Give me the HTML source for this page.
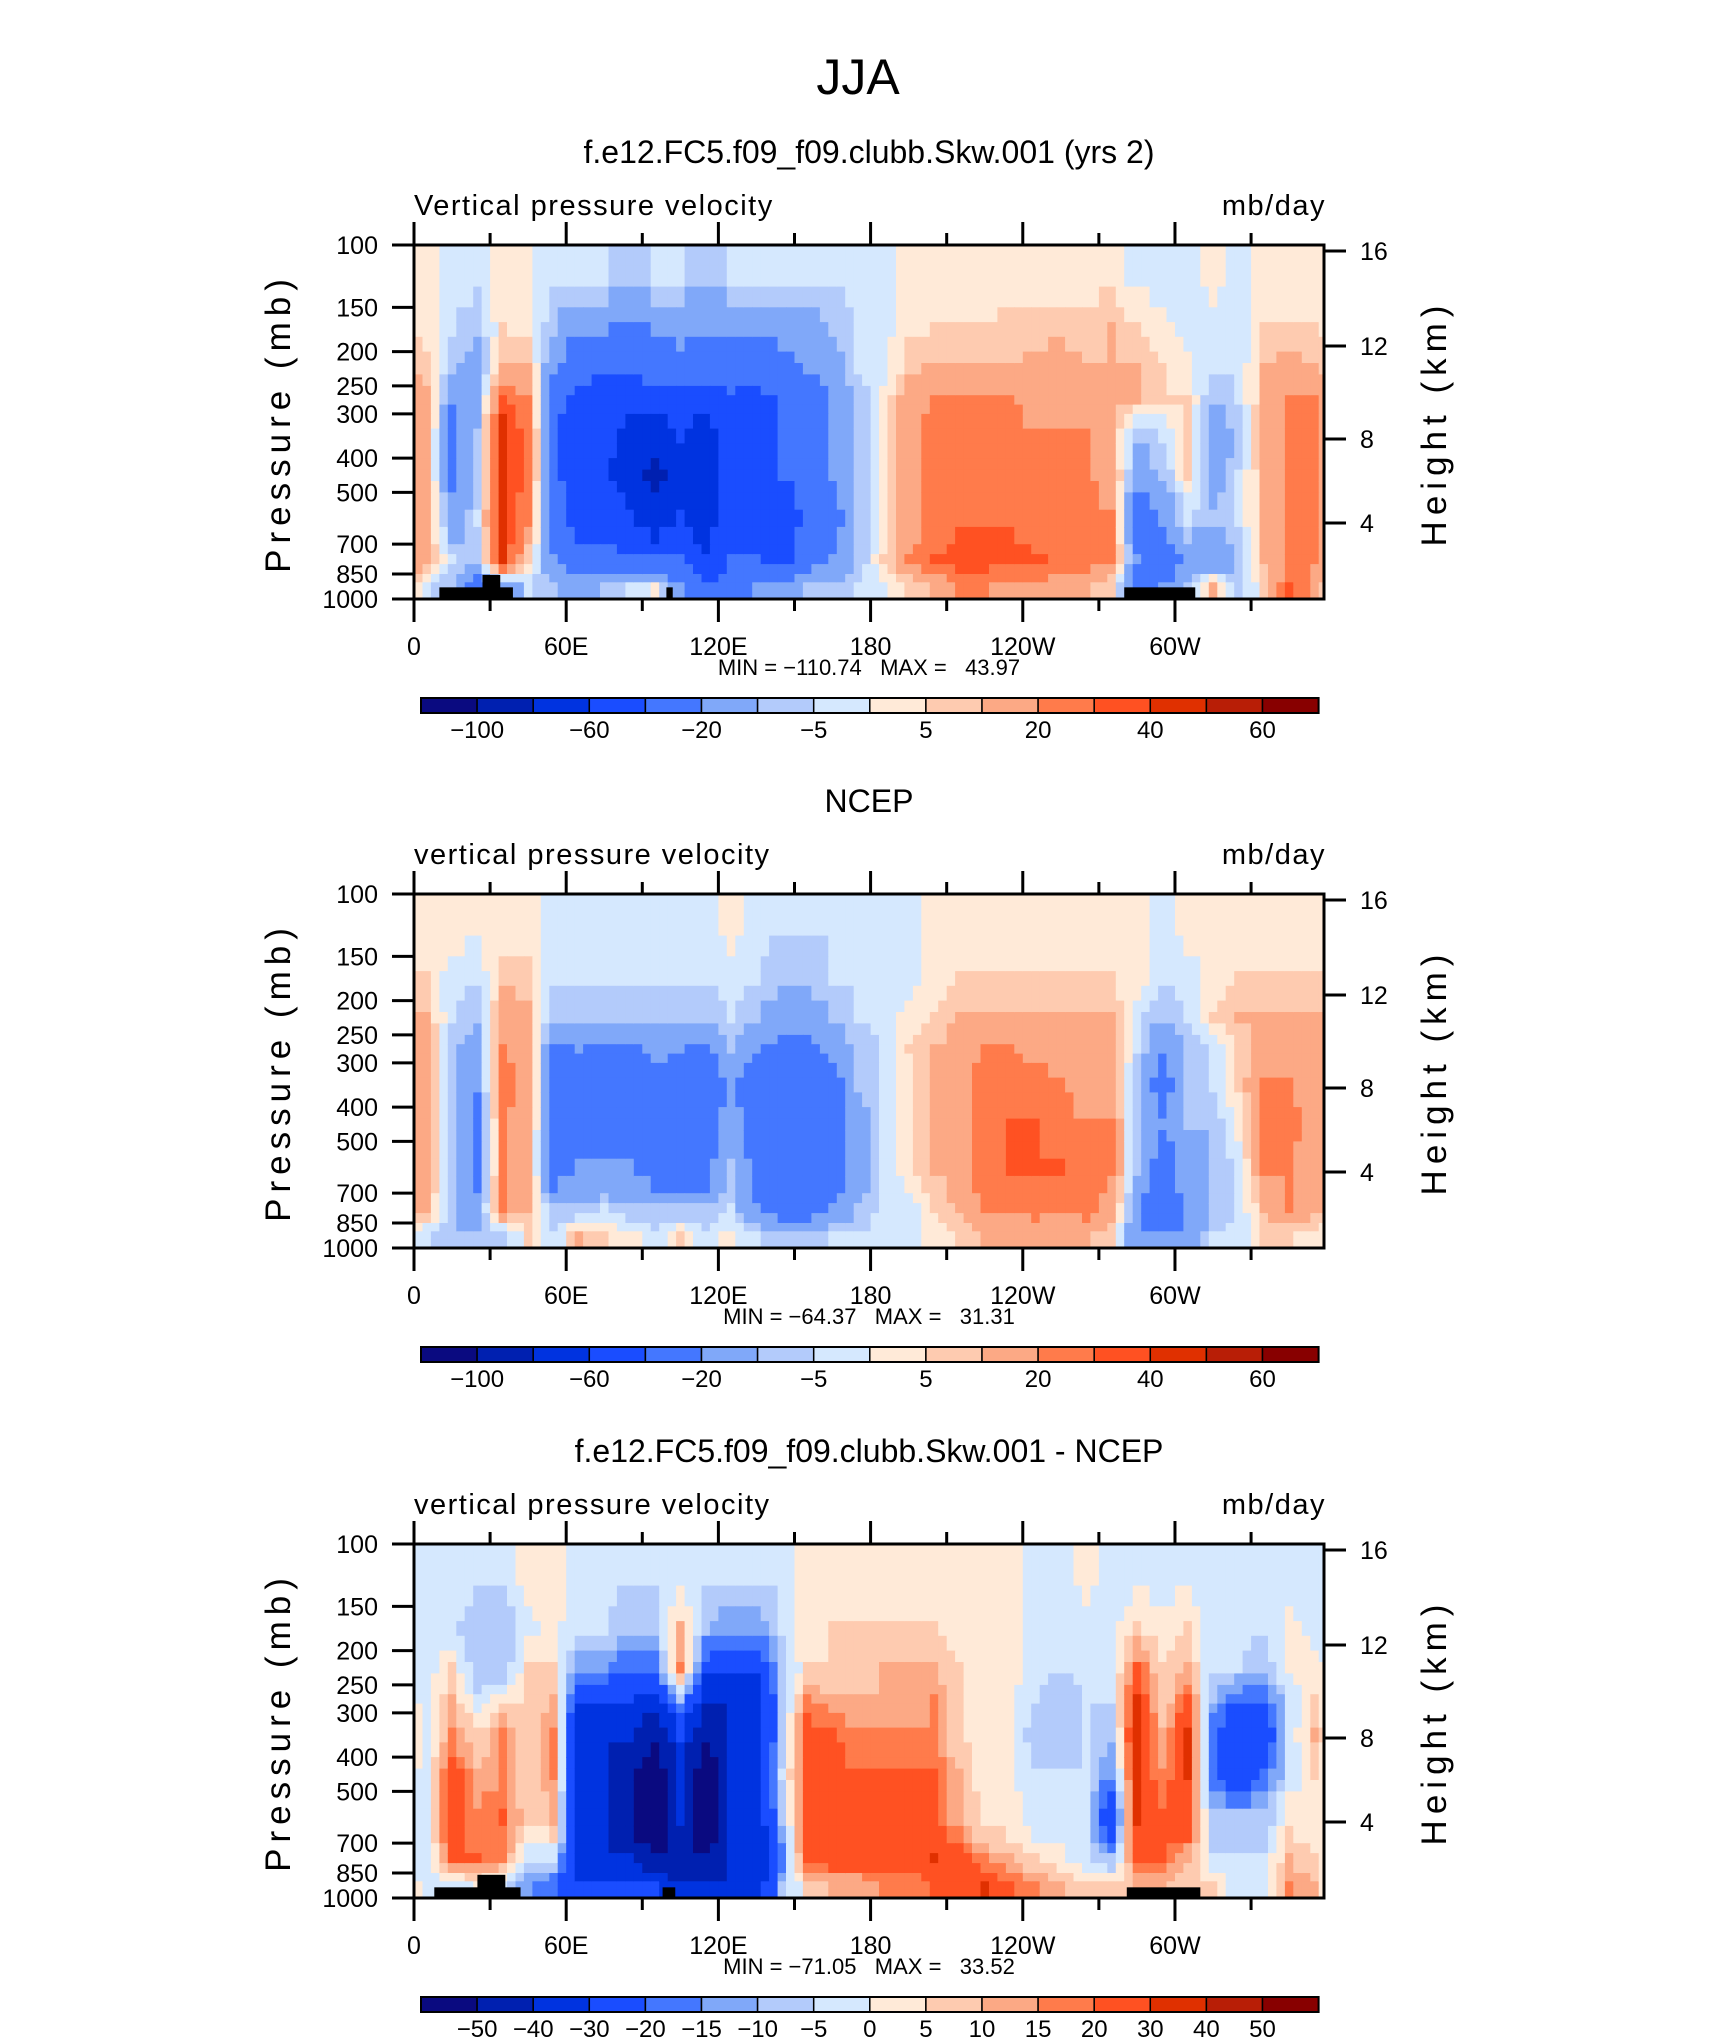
<!DOCTYPE html>
<html><head><meta charset="utf-8"><style>
html,body{margin:0;padding:0;background:#fff}
svg text{font-family:"Liberation Sans Narrow","Liberation Sans",sans-serif;fill:#000}
</style></head><body>
<svg id="fig" xmlns="http://www.w3.org/2000/svg" width="1710" height="2038" viewBox="0 0 1710 2038">
<rect x="0" y="0" width="1710" height="2038" fill="#fff"/>
<text x="858" y="94" font-size="50" text-anchor="middle" style="font-family:'Liberation Sans',sans-serif">JJA</text>
</svg>
<script>
// ---------- DATA ----------
const lons = [5,15,25,35,45,55,65,75,85,95,105,115,125,135,145,155,165,175,185,195,205,215,225,235,245,255,265,275,285,295,305,315,325,335,345,355];
const levels = [125,175,225,275,350,450,600,775,925];
const levelBounds = [100,150,200,250,300,400,500,700,850,1000];
const pTicks = [100,150,200,250,300,400,500,700,850,1000];
const lonTicks = [0,60,120,180,240,300];
const lonTickLabels = ["0","60E","120E","180","120W","60W"];
const hTickLabels = ["16","12","8","4"];
const hTickOffsets = [6,101,194,278];
const cbLevels1 = [-100,-80,-60,-40,-20,-10,-5,0,5,10,20,30,40,50,60];
const cbLabels1 = ["-100","","-60","","-20","","-5","","5","","20","","40","","60"];
const cbLevels3 = [-50,-40,-30,-20,-15,-10,-5,0,5,10,15,20,30,40,50];
const cbLabels3 = ["-50","-40","-30","-20","-15","-10","-5","0","5","10","15","20","30","40","50"];
const palette = ["#0a0a80","#0020b0","#0033e0","#1a4dff","#4477ff","#80a8f9","#b3cbfb","#d5e8fe","#ffead8","#fecbb0","#fca985","#ff7b4b","#ff5122","#e03000","#b81e06","#880000"];

// model values [lon][level]
const model = [
[2,3,8,12,12,12,10,15,-5],[-3,-5,-10,-20,-25,-25,-15,-5,-10],[-3,-10,-15,-15,-10,-10,-5,-10,-30],
[2,5,10,30,45,45,40,40,-20],[0,3,10,20,25,25,20,5,-5],[-3,-10,-20,-30,-35,-35,-30,-20,-10],
[-5,-20,-30,-50,-60,-55,-50,-30,-15],[-5,-20,-40,-45,-50,-60,-50,-30,-10],[-10,-25,-40,-55,-70,-70,-60,-40,-5],
[-5,-20,-30,-50,-70,-90,-70,-40,2],[-5,-15,-30,-50,-60,-70,-60,-35,-20],[-10,-20,-30,-50,-70,-80,-70,-60,-40],
[-5,-20,-30,-45,-45,-45,-45,-40,-30],[-5,-20,-30,-50,-50,-45,-45,-40,-20],[-5,-15,-25,-35,-40,-40,-50,-50,-15],
[-5,-15,-20,-30,-35,-35,-35,-25,-10],[-5,-10,-15,-20,-20,-20,-25,-20,-10],[-3,-5,-5,-10,-10,-10,-10,-10,-5],
[-2,-2,-2,2,3,3,3,5,-2],[2,4,8,15,15,15,15,20,5],[2,5,12,20,25,25,25,30,10],
[2,5,10,20,25,28,28,35,20],[2,5,10,20,25,28,28,35,20],[3,8,10,20,25,28,28,35,15],
[3,8,12,15,20,25,25,32,15],[3,8,15,15,20,25,25,28,15],[3,8,10,15,20,20,25,25,10],
[3,10,10,10,10,15,20,20,5],[-2,5,10,10,-10,-15,-30,-20,-30],[-2,2,5,5,-5,-10,-20,-30,-20],
[-2,-3,2,5,5,5,-5,-20,-10],[2,-3,-5,-10,-15,-15,-10,-20,10],[-3,-3,-5,-5,-10,-5,-5,-10,-10],
[2,5,10,10,15,10,10,10,5],[2,5,15,20,20,25,20,20,30],[2,5,10,20,20,20,20,20,15]];
const ncep = [
[3,5,10,15,15,15,15,10,-5],[2,-3,-5,-10,-10,-10,-10,-10,-10],[2,-5,-10,-15,-20,-25,-25,-15,-10],
[3,8,15,20,25,20,20,20,-10],[3,8,12,15,15,15,10,10,5],[-2,-5,-10,-25,-30,-30,-25,-10,-5],
[-3,-5,-10,-20,-25,-25,-20,-10,10],[-3,-5,-10,-25,-25,-25,-20,-5,5],[-3,-5,-10,-25,-25,-25,-20,-10,2],
[-3,-5,-10,-15,-25,-25,-25,-10,-3],[-3,-5,-10,-20,-25,-25,-25,-10,5],[-2,-5,-10,-25,-25,-25,-25,-10,-3],
[2,-3,-5,-10,-20,-15,-10,-5,2],[-3,-5,-10,-20,-25,-25,-25,-20,-5],[-5,-10,-15,-25,-30,-35,-30,-25,-10],
[-5,-10,-15,-25,-35,-35,-30,-25,-10],[-5,-5,-10,-15,-25,-25,-25,-20,-5],[-3,-5,-5,-10,-10,-15,-15,-10,-5],
[-3,-3,-3,-5,-5,-5,-5,-3,-3],[-2,-2,2,5,3,3,3,-3,-2],[2,3,5,10,10,10,10,5,3],
[2,5,10,15,15,15,15,10,5],[2,5,10,20,25,25,25,20,10],[2,5,10,20,25,30,30,20,10],
[2,5,10,15,25,30,30,25,10],[2,5,10,15,20,25,30,20,10],[2,5,10,10,15,20,25,25,10],
[2,5,10,15,15,20,20,15,5],[2,3,-3,-5,-10,-10,-10,-20,-20],[-2,-5,-10,-20,-25,-20,-25,-30,-20],
[2,-3,-5,-10,-10,-10,-15,-20,-20],[2,3,5,-5,-5,-10,-10,-10,-5],[2,5,10,5,5,3,-3,-5,-3],
[2,5,10,15,20,20,20,10,5],[2,5,10,15,20,25,20,20,5],[2,5,10,15,15,15,15,10,3]];
const diff = [
[-2,-3,-3,-3,-3,-3,-5,-5,-5],[-2,-3,5,10,15,25,28,20,-5],[-3,-10,-10,-5,5,10,15,20,0],
[-3,-10,-10,3,15,15,20,15,-5],[2,-2,5,5,5,5,5,-5,-15],[2,2,5,10,15,15,10,-5,-20],
[-2,-5,-15,-30,-40,-40,-40,-40,-30],[-2,-5,-15,-30,-40,-40,-40,-40,-30],[-5,-10,-20,-30,-40,-45,-50,-40,-30],
[-5,-10,-20,-35,-50,-60,-60,-50,-30],[-5,10,15,-10,-30,-40,-40,-50,-40],[-5,-10,-25,-40,-50,-60,-60,-50,-40],
[-5,-15,-30,-40,-40,-40,-40,-40,-40],[-5,-15,-30,-40,-40,-40,-40,-40,-40],[-3,-5,-10,-10,-10,-5,-10,-20,-10],
[2,3,5,15,25,25,25,25,5],[2,5,5,10,20,25,25,25,10],[2,5,5,10,15,20,25,25,10],
[2,5,10,10,15,20,25,25,15],[2,5,10,10,15,20,22,25,15],[2,5,10,15,15,20,20,30,20],
[2,3,5,5,5,10,10,28,20],[2,2,2,3,2,2,3,15,30],[2,2,2,2,2,2,2,10,20],
[-2,-2,-3,-5,-10,-5,-3,5,15],[-2,-2,-5,-10,-10,-5,-3,2,10],[2,-2,-3,-5,-5,-5,-5,-5,5],
[-2,-2,-3,-5,-10,-15,-30,-10,5],[-2,5,20,30,35,30,30,20,10],[-2,2,5,5,10,15,20,20,10],
[-2,5,10,20,30,30,25,10,5],[-2,-5,-5,-10,-20,-20,-10,-3,5],[-2,-3,-5,-20,-30,-30,-10,-5,-3],
[-2,-5,-10,-20,-30,-20,-10,-5,-5],[-2,2,2,-5,-5,-5,3,10,15],[-2,-2,2,5,10,5,3,5,10]];
// land mask blocks: [lon0, lon1, top pressure]
const land1 = [[10,39,927],[27,34,855],[99.5,102,927],[280,308,927]];
const land3 = [[8,42,933],[25,36,860],[98,103,933],[281,310,933]];

// ---------- RENDER ----------
const NS="http://www.w3.org/2000/svg";
const svg=document.getElementById('fig');
const L=414,R=1324,PH=354,LONMAX=358.75;
function el(t,a,p){const e=document.createElementNS(NS,t);for(const k in a)e.setAttribute(k,a[k]);(p||svg).appendChild(e);return e;}
function xS(lon){return L+lon*(R-L)/LONMAX;}
function yS(p,top){return top+Math.log10(p/100)*PH;}
function colorFor(v,lv){let i=0;while(i<lv.length&&v>=lv[i])i++;return palette[i];}
function txt(s,x,y,size,anchor,g,extra){const t=el('text',Object.assign({x:x,y:y,'font-size':size,'text-anchor':anchor||'start'},extra||{}),g);t.textContent=s;return t;}
function sample(data,fc,fr){
  const n=lons.length;fr=Math.max(0,Math.min(levels.length-1,fr));
  let c0=Math.floor(fc),tc=fc-c0;const r0=Math.floor(fr),tr=fr-r0;const r1=Math.min(levels.length-1,r0+1);
  const a=data[((c0%n)+n)%n],b=data[(((c0+1)%n)+n)%n];
  return (a[r0]*(1-tc)+b[r0]*tc)*(1-tr)+(a[r1]*(1-tc)+b[r1]*tc)*tr;
}
function panel(o){
  const top=o.top,g=el('g',{},svg);
  
  
  txt(o.title,869,top-82,32,'middle',g,{style:"font-family:'Liberation Sans',sans-serif"});
  txt(o.sub,414,top-30,29,'start',g,{'letter-spacing':'1.5'});
  txt('mb/day',1326,top-30,29,'end',g,{'letter-spacing':'1.5'});
  const clip='c'+top;const cp=el('clipPath',{id:clip},g);el('rect',{x:L,y:top,width:R-L,height:PH},cp);
  const cg=el('g',{'clip-path':'url(#'+clip+')'},g);
  
  
  const SX=3,SY=3,dl=lons[1]-lons[0];
  for(let i=0;i<lons.length;i++){
    for(let j=0;j<levels.length;j++){
      const cell=el('g',{},cg);
      
      
      const lp0=Math.log10(levelBounds[j]),lp1=Math.log10(levelBounds[j+1]);
      for(let a=0;a<SX;a++){for(let b=0;b<SY;b++){
        const lonA=lons[i]-dl/2+a*dl/SX,lonB=lonA+dl/SX;
        const fc=i+((a+0.5)/SX-0.5);
        const fr=j+((b+0.5)/SY-0.5);
        const v=sample(o.data,fc,fr);
        const pa=Math.pow(10,lp0+(lp1-lp0)*b/SY),pb=Math.pow(10,lp0+(lp1-lp0)*(b+1)/SY);
        const x0=xS(lonA),x1=xS(lonB),y0=yS(pa,top),y1=yS(pb,top);
        el('rect',{x:x0.toFixed(1),y:y0.toFixed(1),width:(x1-x0+0.6).toFixed(1),height:(y1-y0+0.6).toFixed(1),fill:colorFor(v,o.lv)},cell);
      }}
    }
  }
  if(o.land){for(const b of o.land){const r=el('rect',{x:xS(b[0]),y:yS(b[2],top),width:xS(b[1])-xS(b[0]),height:top+PH-yS(b[2],top),fill:'#000'},cg);
    
    }}
  el('rect',{x:L,y:top,width:R-L,height:PH,fill:'none',stroke:'#000','stroke-width':3},g);
  for(let lon=0;lon<=330;lon+=30){const x=xS(lon),maj=lon%60===0,len=maj?23:12;
    el('line',{x1:x,y1:top,x2:x,y2:top-len,stroke:'#000','stroke-width':3},g);
    el('line',{x1:x,y1:top+PH,x2:x,y2:top+PH+len,stroke:'#000','stroke-width':3},g);}
  lonTicks.forEach((lon,k)=>txt(lonTickLabels[k],xS(lon),top+410,25,'middle',g,{}));
  pTicks.forEach(p=>{const y=yS(p,top);el('line',{x1:L-22,y1:y,x2:L,y2:y,stroke:'#000','stroke-width':3},g);
    txt(String(p),378,y+9,25,'end',g,{});});
  hTickLabels.forEach((h,k)=>{const y=top+hTickOffsets[k];el('line',{x1:R,y1:y,x2:R+22,y2:y,stroke:'#000','stroke-width':3},g);
    txt(h,1360,y+9,25,'start',g,{});});
  txt('Pressure (mb)',0,0,35,'middle',g,{transform:'translate(290,'+(top+178)+') rotate(-90)','letter-spacing':'6',});
  txt('Height (km)',0,0,35,'middle',g,{transform:'translate(1446,'+(top+178)+') rotate(-90)','letter-spacing':'6',});
  txt(o.minmax,869,top+430,22,'middle',g,{style:'white-space:pre'});
  const cy=top+453,cx0=421,cw=56.1;
  const cb=el('g',{},g);
  
  
  palette.forEach((c,k)=>el('rect',{x:cx0+k*cw,y:cy,width:cw,height:15,fill:c,stroke:'#000','stroke-width':1.5},cb));
  el('rect',{x:cx0,y:cy,width:cw*16,height:15,fill:'none',stroke:'#000','stroke-width':2},cb);
  o.labels.forEach((s,k)=>{if(s)txt(s.replace('-','\u2212'),cx0+(k+1)*cw,cy+40,24,'middle',cb,{});});
}
panel({name:'model-panel',top:245,data:model,lv:cbLevels1,labels:cbLabels1,land:land1,title:'f.e12.FC5.f09_f09.clubb.Skw.001 (yrs 2)',sub:'Vertical pressure velocity',minmax:'MIN = \u2212110.74   MAX =   43.97'});
panel({name:'ncep-panel',top:894,data:ncep,lv:cbLevels1,labels:cbLabels1,land:null,title:'NCEP',sub:'vertical pressure velocity',minmax:'MIN = \u221264.37   MAX =   31.31'});
panel({name:'difference-panel',top:1544,data:diff,lv:cbLevels3,labels:cbLabels3,land:land3,title:'f.e12.FC5.f09_f09.clubb.Skw.001 - NCEP',sub:'vertical pressure velocity',minmax:'MIN = \u221271.05   MAX =   33.52'});
</script>
</body></html>
